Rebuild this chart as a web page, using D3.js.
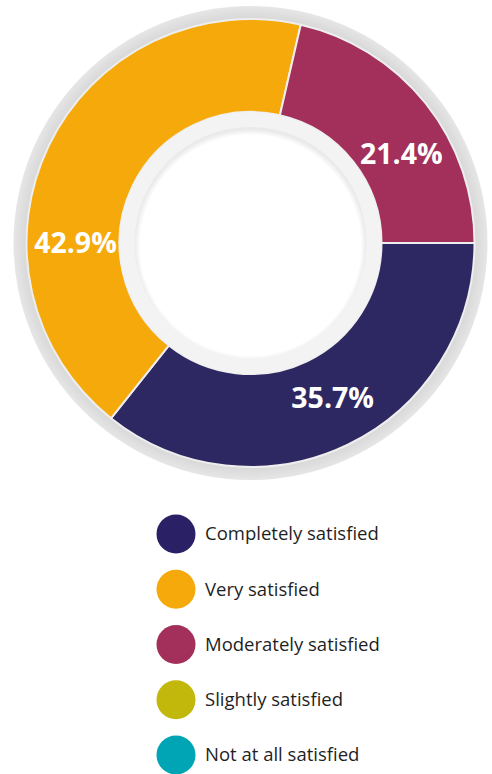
<!DOCTYPE html>
<html>
<head>
<meta charset="utf-8">
<script src="https://cdn.jsdelivr.net/npm/d3@7"></script>
<style>
  body { margin: 0; background: #fff; }
  svg { display: block; }
</style>
</head>
<body>
<div id="vis"></div>
<script>
// datos
const categories = [
  "Completely satisfied",
  "Very satisfied",
  "Moderately satisfied",
  "Slightly satisfied",
  "Not at all satisfied"
];
const percentages = [35.7, 42.9, 21.4, 0, 0];
const sliceColors = ["#2e2862", "#f6a90a", "#a2305a", "#c2b80c", "#00a5b5"];
const legendColors = ["#2a2066", "#f6a90a", "#a2305a", "#c2b80c", "#00a5b5"];
// angulo (grados) donde va cada etiqueta
const labelAngles = [152, 270, 59.5, 0, 0];

const width = 492;
const height = 774;
const cx = 250.5;
const cy = 243;
const outerR = 224;
const innerR = 131;

const svg = d3.select("#vis")
  .append("svg")
  .attr("width", width)
  .attr("height", height);

const defs = svg.append("defs");

const ringGrad = defs.append("radialGradient")
  .attr("id", "ringGrad")
  .attr("cx", "50%").attr("cy", "50%").attr("r", "50%");
ringGrad.append("stop").attr("offset", "93%").attr("stop-color", "#d4d4d4");
ringGrad.append("stop").attr("offset", "97%").attr("stop-color", "#dedede");
ringGrad.append("stop").attr("offset", "100%").attr("stop-color", "#e6e6e6");

const holeGrad = defs.append("radialGradient")
  .attr("id", "holeGrad")
  .attr("cx", "50%").attr("cy", "51%").attr("r", "50%");
holeGrad.append("stop").attr("offset", "95%").attr("stop-color", "#ffffff");
holeGrad.append("stop").attr("offset", "100%").attr("stop-color", "#eaeaea");

const g = svg.append("g").attr("transform", `translate(${cx},${cy})`);

// aro gris exterior
g.append("circle")
  .attr("r", 237)
  .attr("fill", "url(#ringGrad)");

const pie = d3.pie()
  .sort(null)
  .value(d => d)
  .startAngle(Math.PI / 2)
  .endAngle(Math.PI / 2 + 2 * Math.PI);

const arc = d3.arc().innerRadius(innerR).outerRadius(outerR);

const arcs = pie(percentages);

g.selectAll("path.slice")
  .data(arcs.filter(d => d.value > 0))
  .enter()
  .append("path")
  .attr("class", "slice")
  .attr("d", arc)
  .attr("fill", d => sliceColors[d.index])
  .attr("stroke", "#eeeeee")
  .attr("stroke-width", 2);

// aro gris claro interior + hueco blanco
g.append("circle").attr("r", innerR).attr("fill", "#f3f3f3");
g.append("circle").attr("r", 116).attr("fill", "url(#holeGrad)");

const labelR = 175;
g.selectAll("text.pct")
  .data(arcs.filter(d => d.value > 0))
  .enter()
  .append("text")
  .attr("class", "pct")
  .attr("x", d => labelR * Math.sin(labelAngles[d.index] * Math.PI / 180))
  .attr("y", d => -labelR * Math.cos(labelAngles[d.index] * Math.PI / 180))
  .attr("text-anchor", "middle")
  .attr("dy", "0.36em")
  .attr("fill", "#fff")
  .style("font-family", "'Open Sans', sans-serif")
  .style("font-weight", 700)
  .style("font-size", "28.5px")
  .text(d => d.value.toFixed(1) + "%");

// leyenda
const legendY = d3.scalePoint()
  .domain(categories)
  .range([534, 755]);

const legend = svg.selectAll("g.legend")
  .data(categories)
  .enter()
  .append("g")
  .attr("class", "legend")
  .attr("transform", d => `translate(176,${legendY(d)})`);

legend.append("circle")
  .attr("r", 19.5)
  .attr("fill", (_d, i) => legendColors[i]);

legend.append("text")
  .attr("x", 29)
  .attr("dy", "0.35em")
  .attr("fill", "#1f1f1f")
  .style("font-family", "'Open Sans', sans-serif")
  .style("font-size", "18.5px")
  .text(d => d);
</script>
</body>
</html>
